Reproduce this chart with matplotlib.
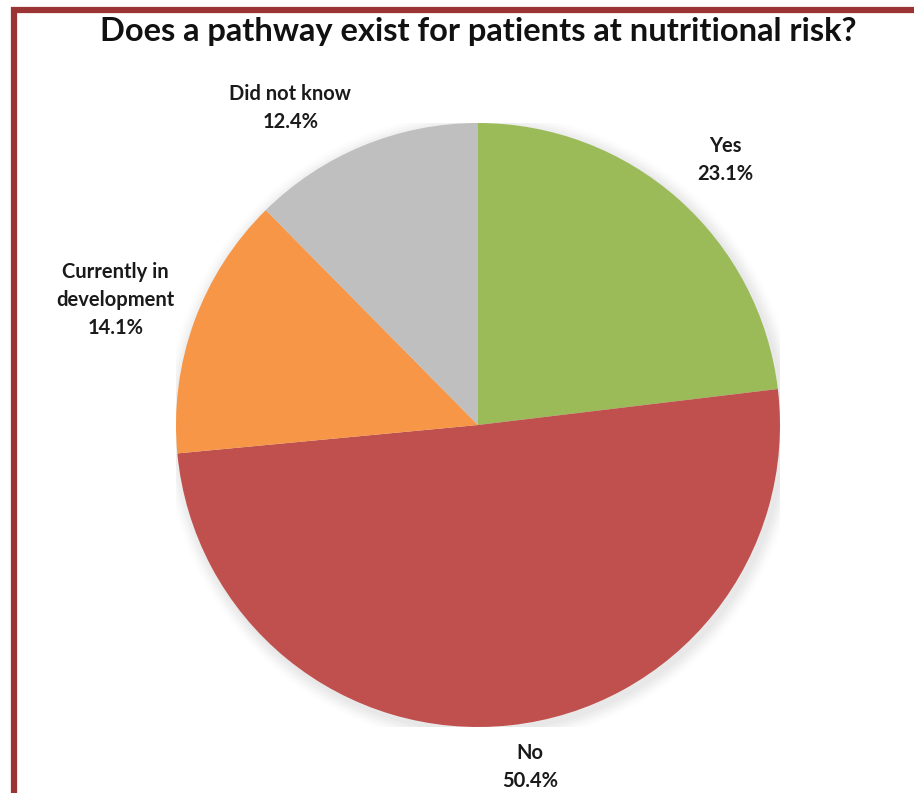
import matplotlib
matplotlib.use("Agg")
import matplotlib.pyplot as plt
import numpy as np

categories = ["Yes", "No", "Currently in\ndevelopment", "Did not know"]
values = [23.1, 50.4, 14.1, 12.4]
colors = ["#9BBB59", "#C0504D", "#F79646", "#BFBFBF"]
# label placement (style): distance in radii and angular offset from wedge middle
label_dist = [1.20, 1.145, 1.27, 1.22]
label_dang = [-1.4, 2.5, 1.0, 8.3]

plt.rcParams['font.family'] = ['Lato', 'DejaVu Sans']

fig = plt.figure(figsize=(9.14, 7.93), dpi=100)
fig.patch.set_facecolor("white")

# border lines
border_color = "#9B3535"
fig.add_artist(plt.Line2D([11/914, 1.0], [1-10/793, 1-10/793], color=border_color, lw=4.5, transform=fig.transFigure, solid_capstyle='butt'))
fig.add_artist(plt.Line2D([14/914, 14/914], [1-7/793, 0], color=border_color, lw=4.5, transform=fig.transFigure, solid_capstyle='butt'))

ax = fig.add_axes([176/914, 66/793, 604/914, 604/793])
# soft shadow
for i, a in enumerate(np.linspace(0.05, 0.01, 6)):
    ax.add_patch(plt.Circle((0.01, -0.012), 1.0 + 0.008 * (i + 1), color="#888888", alpha=a, lw=0, zorder=0))
wedges, _ = ax.pie(values, colors=colors, startangle=90, counterclock=False,
                   wedgeprops=dict(linewidth=0), radius=1.0)
for w in wedges:
    w.set_zorder(2)
for w, cat, v, d, da in zip(wedges, categories, values, label_dist, label_dang):
    theta = np.deg2rad((w.theta1 + w.theta2) / 2 + da)
    ax.text(d * np.cos(theta), d * np.sin(theta), f"{cat}\n{v:.1f}%",
            ha="center", va="center", fontsize=14.5, fontweight="bold",
            color="#1a1a1a", linespacing=1.5)
ax.set_xlim(-1, 1)
ax.set_ylim(-1, 1)
ax.set_aspect("equal")
ax.axis("off")

fig.text(478/914, 1-31/793, "Does a pathway exist for patients at nutritional risk?",
         ha="center", va="center", fontsize=23.5, fontweight="bold", color="#111111")

fig.savefig("out.png", dpi=100)
